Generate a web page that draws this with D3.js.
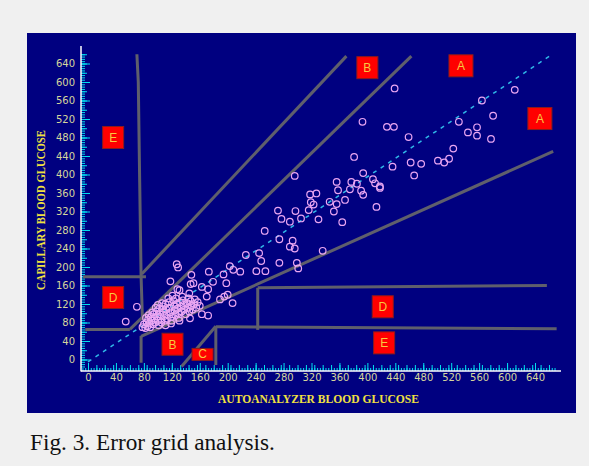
<!DOCTYPE html>
<html><head><meta charset="utf-8">
<script src="https://cdn.jsdelivr.net/npm/d3@7"></script>
<style>html,body{margin:0;padding:0;background:#f0f0f0;}svg{display:block}</style>
</head><body><svg id="c" width="589" height="466"></svg>
<script>
// ---------- DATA ----------
const xTickLabels = [0,40,80,120,160,200,240,280,320,360,400,440,480,520,560,600,640];
const yTickLabels = [0,40,80,120,160,200,240,280,320,360,400,440,480,520,560,600,640];
const xTitle = "AUTOANALYZER BLOOD GLUCOSE";
const yTitle = "CAPILLARY BLOOD GLUCOSE";
const caption = "Fig. 3. Error grid analysis.";

// [autoanalyzer, capillary] readings
const readings = [
 [439,586],[611,583],[564,560],[580,527],[531,514],[428,503],[438,503],[557,502],[544,491],[557,484],
 [577,477],[459,481],[523,456],[501,430],[510,426],[517,434],[462,426],[477,423],[436,417],[467,398],
 [418,374],[393,514],[381,438],[394,403],[296,397],
 [356,384],[377,384],[385,380],[375,368],[408,390],[411,381],[418,371],[358,366],[391,365],[394,356],
 [318,357],[327,359],[319,340],[346,341],[356,336],[368,345],[352,320],[413,330],[272,322],[297,321],
 [323,335],[316,323],[277,304],[289,298],[305,305],[330,303],[364,297],[253,278],[274,260],[293,257],
 [289,244],[296,240],[336,235],[226,226],[245,230],[248,213],[274,209],[299,209],[301,197],[203,202],
 [208,194],[218,190],[194,184],[241,191],[254,191],[173,190],[148,183],[151,165],[179,168],[198,165],
 [163,157],[172,152],[170,136],[195,136],[200,140],[207,122],[163,98],[172,95],[146,89],
 [127,206],[129,199],[118,169],[128,152],[147,163],[131,150],[145,143],[148,116],[189,130],[70,114],[54,82],
 [78,70],[80,76],[82,68],[84,80],[85,72],[86,86],[88,78],[89,70],[90,92],[91,84],[93,76],[94,98],[95,88],
 [96,80],[98,104],[99,93],[100,84],[101,74],[102,110],[103,98],[104,88],[105,80],[107,115],[108,103],
 [109,94],[110,84],[111,120],[112,108],[113,98],[114,88],[116,124],[117,112],[118,102],[119,92],[120,84],
 [122,128],[123,116],[124,106],[125,96],[127,120],[128,110],[129,100],[130,90],[132,124],[133,114],
 [134,104],[136,128],[137,118],[138,108],[140,98],[142,122],[143,112],[145,104],[147,126],[148,116],
 [150,108],[152,120],[155,112],[157,124],[160,116],[87,96],[92,102],[97,112],[106,122],[115,132],
 [121,138],[126,132],[135,136],[144,132],[153,130],[83,90],[100,118],[111,74],[119,78],[131,84]
];

// error-grid zone boundaries (data units)
const zoneLines = [
 [[70,660],[72,600],[74,385],[76,180],[78,85]],
 [[-7,179],[83,179]],
 [[77,185],[370,656]],
 [[-4,65],[60,65]],
 [[60,65],[463,656]],
 [[76,-7],[76,51]],
 [[76,50],[666,450]],
 [[134,-15],[183,72]],
 [[183,-12],[183,72]],
 [[183,71],[671,66.5]],
 [[243,64],[243,155]],
 [[243,155],[657,160]]
];
const identityLine = [[0,-5],[662,657]];

// zone labels: [letter, auto, capillary]
const zoneLabels = [
 ["E",36,480],["B",400,631],["A",534,635],["A",647,521],["D",36,134],
 ["D",422,114],["E",424,36],["B",121,33],["C",164,11]
];

// ---------- DRAW ----------
const svg = d3.select("#c");
const x = d3.scaleLinear().domain([0,640]).range([88,535]);
const y = d3.scaleLinear().domain([0,640]).range([359.5,63.5]);

svg.append("rect").attr("x",0).attr("y",0).attr("width",589).attr("height",466).attr("fill","#f0f0f0");
svg.append("rect").attr("x",27).attr("y",33).attr("width",549).attr("height",380).attr("fill","#000080");

const axX = 81, axY = 371;

// y ticks (cyan)
function yTicks(vals,len){
  const g = svg.append("g").attr("transform",`translate(${axX},0)`)
    .call(d3.axisRight(y).tickValues(vals).tickSize(len).tickFormat(""));
  g.select(".domain").remove();
  g.selectAll("line").attr("stroke","#00e0f0").attr("stroke-width",1);
}
yTicks(d3.range(-15,662,5),4);
yTicks(d3.range(0,662,20),6);
yTicks(d3.range(0,662,40),9);

function xTicks(vals,len){
  const g = svg.append("g").attr("transform",`translate(0,${axY})`)
    .call(d3.axisTop(x).tickValues(vals).tickSize(len).tickFormat(""));
  g.select(".domain").remove();
  g.selectAll("line").attr("stroke","#00e0f0").attr("stroke-width",1);
}
xTicks(d3.range(-8,670,4),3);
xTicks(d3.range(0,670,12),6);
xTicks(d3.range(0,661,40),8);

// axis lines
svg.append("line").attr("x1",axX).attr("x2",axX).attr("y1",46).attr("y2",axY+0.5)
  .attr("stroke","#ffffff").attr("stroke-width",1.5);
svg.append("line").attr("x1",axX).attr("x2",561).attr("y1",axY).attr("y2",axY)
  .attr("stroke","#ffffff").attr("stroke-width",1.5);

// tick labels
const labCol = "#d6d69c";
const gyl = svg.append("g").attr("transform",`translate(${axX},0)`)
  .call(d3.axisLeft(y).tickValues(yTickLabels).tickSize(0).tickPadding(6));
gyl.select(".domain").remove();
gyl.selectAll("text").attr("fill",labCol).style("font-family","DejaVu Sans, sans-serif").style("font-size","10px");
const gxl = svg.append("g").attr("transform",`translate(0,${axY})`)
  .call(d3.axisBottom(x).tickValues(xTickLabels).tickSize(0).tickPadding(3));
gxl.select(".domain").remove();
gxl.selectAll("text").attr("fill",labCol).style("font-family","DejaVu Sans, sans-serif").style("font-size","10px");

// axis titles
svg.append("text").attr("x",318.5).attr("y",403.3).attr("text-anchor","middle")
  .attr("textLength",201).attr("lengthAdjust","spacingAndGlyphs")
  .style("font-family","Liberation Serif, serif").style("font-weight","bold").style("font-size","11.5px")
  .attr("fill","#f0e040").text(xTitle);
svg.append("text").attr("transform","translate(45,210) rotate(-90)").attr("text-anchor","middle")
  .attr("textLength",160).attr("lengthAdjust","spacingAndGlyphs")
  .style("font-family","Liberation Serif, serif").style("font-weight","bold").style("font-size","11.5px")
  .attr("fill","#f0e040").text(yTitle);

// identity dashed line
const line = d3.line().x(d=>x(d[0])).y(d=>y(d[1]));
svg.append("path").attr("d",line(identityLine)).attr("fill","none")
  .attr("stroke","#30b8e8").attr("stroke-width",1.5).attr("stroke-dasharray","4,5");

// zone lines
svg.append("g").selectAll("path").data(zoneLines).join("path")
  .attr("d",line).attr("fill","none").attr("stroke","#5f5f6c").attr("stroke-width",3)
  .attr("stroke-linejoin","round");

// points
svg.append("g").selectAll("circle").data(readings).join("circle")
  .attr("cx",d=>x(d[0])).attr("cy",d=>y(d[1])).attr("r",3.3)
  .attr("fill","none").attr("stroke","#eaa6f2").attr("stroke-width",1.2);

// zone labels
const defs = svg.append("defs");
zoneLabels.forEach((d,i)=>{
  const w = d[0]==="A" ? 24 : 21, h = d[0]==="C" ? 12 : 22;
  const cx = x(d[1]), cy = y(d[2]);
  defs.append("clipPath").attr("id","cl"+i).append("rect")
    .attr("x",cx-w/2).attr("y",cy-h/2).attr("width",w).attr("height",h);
  svg.append("rect").attr("x",cx-w/2).attr("y",cy-h/2).attr("width",w).attr("height",h)
    .attr("fill","#ff0000").attr("stroke","#8a1c1c").attr("stroke-width",1);
  svg.append("text").attr("x",cx).attr("y",d[0]==="C" ? cy+3.5 : cy+4.5).attr("text-anchor","middle")
    .attr("clip-path",`url(#cl${i})`)
    .style("font-family","Liberation Sans, Arial, sans-serif").style("font-size","12px")
    .attr("fill","#f8c840").text(d[0]);
});

// caption
const cap = svg.append("text").attr("x",30).attr("y",450)
  .style("font-family","Liberation Serif, 'Times New Roman', serif").style("font-size","20px")
  .attr("fill","#111").text(caption);
const wNow = cap.node().getComputedTextLength();
cap.style("font-size",(20*245/wNow).toFixed(2)+"px");
</script></body></html>
